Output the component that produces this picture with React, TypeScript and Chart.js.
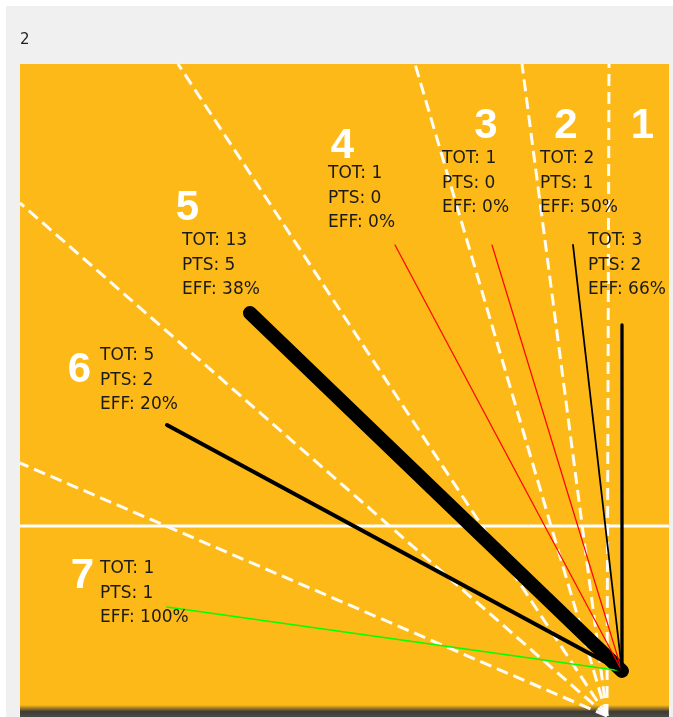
import React, { useEffect, useRef } from "react";
import { Chart, registerables } from "chart.js";

Chart.register(...registerables);

// ---- data ----
const zones = ["1", "2", "3", "4", "5", "6", "7"];
const tot = [3, 2, 1, 1, 13, 5, 1];
const pts = [2, 1, 0, 0, 5, 2, 1];
const eff = [66, 50, 0, 0, 38, 20, 100];
// shot end points in court units (x from left edge, y from bottom edge)
const shotX = [602, 553, 472, 375, 230, 147, 147];
const shotY = [385, 465, 465, 465, 397, 285, 103];
const shotOriginX = 602;
const shotOriginY = 39;
// zone boundary rays
const rayOriginX = 587;
const rayOriginY = -6;
const rayEndX = [589, 502, 395, 158, 0, 0];
const rayEndY = [646, 646, 646, 646, 507, 247];
const midLineY = 184;
const courtW = 649;
const courtH = 646;
// label anchors (court units)
const numberX = [622.5, 546, 466, 322.5, 167.5, 59.5, 62.5];
const numberY = [572, 572, 572, 552, 490, 328, 122];
const statX = [568, 520, 422, 308, 162, 80, 80];
const statY = [465, 547, 547, 532, 465, 350, 137];
const title = "2";

// ---- styles ----
const shotWidth = [3.3, 1.8, 1.2, 1.2, 14, 4, 1.5];

const W = 673;
const H = 717;
const ORANGE = "#FDB917";

function shotColor(e: number) {
  if (e === 0) return "#ff0000";
  if (e === 100) return "#00ff00";
  return "#000000";
}

const backgroundPlugin = {
  id: "courtBg",
  beforeDraw(chart: any) {
    const { ctx, chartArea } = chart;
    ctx.save();
    ctx.fillStyle = "#ffffff";
    ctx.fillRect(0, 0, W, H);
    ctx.fillStyle = "#f0f0f0";
    ctx.fillRect(6, 6, W - 6, H - 6);
    ctx.fillStyle = "#1e1e1e";
    ctx.font = "15px 'DejaVu Sans', sans-serif";
    ctx.textAlign = "left";
    ctx.textBaseline = "alphabetic";
    ctx.fillText(title, 20, 44);
    const { left, top, right, bottom } = chartArea;
    ctx.fillStyle = ORANGE;
    ctx.fillRect(left, top, right - left, bottom - top);
    const g = ctx.createLinearGradient(0, bottom - 5, 0, H);
    g.addColorStop(0, ORANGE);
    g.addColorStop(0.55, "#3d3b36");
    g.addColorStop(1, "#4c4a45");
    ctx.fillStyle = g;
    ctx.fillRect(left, bottom - 5, right - left, H - (bottom - 5));
    ctx.restore();
  },
};

const labelsPlugin = {
  id: "zoneLabels",
  afterDatasetsDraw(chart: any) {
    const { ctx } = chart;
    const xs = chart.scales.x;
    const ys = chart.scales.y;
    ctx.save();
    zones.forEach((z, i) => {
      ctx.font = "bold 42px 'Liberation Sans', Arial, sans-serif";
      ctx.fillStyle = "#ffffff";
      ctx.textAlign = "center";
      ctx.textBaseline = "alphabetic";
      ctx.fillText(z, xs.getPixelForValue(numberX[i]), ys.getPixelForValue(numberY[i]));
      ctx.font = "17px 'DejaVu Sans', sans-serif";
      ctx.fillStyle = "#1a1a1a";
      ctx.textAlign = "left";
      const lines = [`TOT: ${tot[i]}`, `PTS: ${pts[i]}`, `EFF: ${eff[i]}%`];
      const px = xs.getPixelForValue(statX[i]);
      const py = ys.getPixelForValue(statY[i]);
      lines.forEach((t, k) => ctx.fillText(t, px, py + k * 24.5));
    });
    ctx.restore();
  },
};

export default function App() {
  const ref = useRef<HTMLCanvasElement>(null);
  useEffect(() => {
    if (!ref.current) return;
    const rayDatasets = rayEndX.map((ex, i) => ({
      label: `zone-line-${i}`,
      data: [
        { x: rayOriginX, y: rayOriginY },
        { x: ex, y: rayEndY[i] },
      ],
      showLine: true,
      borderColor: "rgba(255,255,255,0.95)",
      borderWidth: 3,
      borderDash: [12, 6],
      pointRadius: 0,
      clip: false as any,
      order: 3,
    }));
    const midLine = {
      label: "mid-line",
      data: [
        { x: 0, y: midLineY },
        { x: courtW, y: midLineY },
      ],
      showLine: true,
      borderColor: "#ffffff",
      borderWidth: 3,
      pointRadius: 0,
      order: 2,
    };
    const shotDatasets = zones.map((z, i) => ({
      label: `shot-${z}`,
      data: [
        { x: shotX[i], y: shotY[i] },
        { x: shotOriginX, y: shotOriginY },
      ],
      showLine: true,
      borderColor: shotColor(eff[i]),
      borderWidth: shotWidth[i],
      borderCapStyle: "round" as const,
      pointRadius: 0,
      order: tot[i] > 5 ? 1 : 0,
    }));
    const chart = new Chart(ref.current, {
      type: "scatter",
      data: { datasets: [...shotDatasets, midLine, ...rayDatasets] as any },
      options: {
        animation: false,
        responsive: false,
        devicePixelRatio: 1,
        layout: { padding: { left: 20, top: 64, right: W - 669, bottom: H - 710 } },
        scales: {
          x: { type: "linear", min: 0, max: courtW, display: false },
          y: { type: "linear", min: 0, max: courtH, display: false },
        },
        plugins: {
          legend: { display: false },
          tooltip: { enabled: false },
          title: { display: false },
        },
        events: [],
      },
      plugins: [backgroundPlugin, labelsPlugin],
    });
    return () => chart.destroy();
  }, []);
  return (
    <div style={{ position: "absolute", left: 0, top: 0, width: W, height: H }}>
      <canvas ref={ref} width={W} height={H} style={{ width: W, height: H, display: "block" }} />
    </div>
  );
}
